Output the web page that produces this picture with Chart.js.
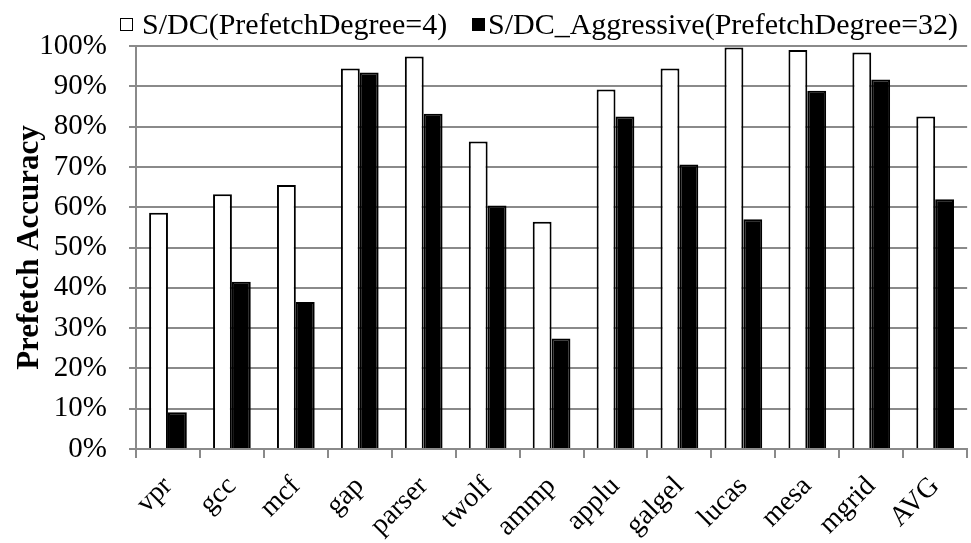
<!DOCTYPE html>
<html>
<head>
<meta charset="utf-8">
<script src="https://cdn.jsdelivr.net/npm/chart.js@4.4.1/dist/chart.umd.min.js"></script>
<style>
  html, body { margin: 0; padding: 0; background: #fff; }
  #wrap { position: relative; width: 971px; height: 543px; }
  #chart { position: absolute; left: 0; top: 0; }
  .legend { position: absolute; top: 9px; left: 0; height: 30px;
            font-family: "Liberation Serif", "Times New Roman", serif; font-size: 30px;
            line-height: 30px; color: #000; white-space: nowrap; }
  .legend .box { position: absolute; top: 9px; width: 11px; height: 11px; border: 1.5px solid #000; }
  .legend .txt { position: absolute; top: 0; }
</style>
</head>
<body>
<div id="wrap">
  <canvas id="chart" width="971" height="543"></canvas>
  <div class="legend" id="legend"></div>
</div>
<script>
// Benchmarks on the category axis
const benchmarks = ['vpr', 'gcc', 'mcf', 'gap', 'parser', 'twolf', 'ammp', 'applu', 'galgel', 'lucas', 'mesa', 'mgrid', 'AVG'];

// Prefetch accuracy (%) per benchmark
const degree4 =    [58.6, 63.2, 65.5, 94.4, 97.4, 76.3, 56.4, 89.2, 94.4, 99.6, 99.0, 98.4, 82.5];
const aggressive = [ 9.1, 41.5, 36.5, 93.4, 83.2, 60.4, 27.4, 82.5, 70.6, 57.0, 88.9, 91.7, 62.0];

// Series names
const seriesNames = ['S/DC(PrefetchDegree=4)', 'S/DC_Aggressive(PrefetchDegree=32)'];

// Y axis range and tick step (%)
const yMin = 0, yMax = 100, yStep = 10;

const serif = '"Liberation Serif", "Times New Roman", serif';
const gridGray = '#8a8a8a';

// Legend row above the plot
const legendSpec = [
  { name: seriesNames[0], fill: '#fff', boxLeft: 120, textLeft: 142 },
  { name: seriesNames[1], fill: '#000', boxLeft: 472, textLeft: 488 }
];
const legendEl = document.getElementById('legend');
legendSpec.forEach(s => {
  const box = document.createElement('div');
  box.className = 'box';
  box.style.left = s.boxLeft + 'px';
  box.style.background = s.fill;
  const txt = document.createElement('div');
  txt.className = 'txt';
  txt.style.left = s.textLeft + 'px';
  txt.textContent = s.name;
  legendEl.appendChild(box);
  legendEl.appendChild(txt);
});

new Chart(document.getElementById('chart'), {
  type: 'bar',
  data: {
    labels: benchmarks,
    datasets: [
      {
        label: seriesNames[0],
        data: degree4,
        backgroundColor: '#ffffff',
        borderColor: '#000000',
        borderWidth: 2
      },
      {
        label: seriesNames[1],
        data: aggressive,
        backgroundColor: '#000000',
        borderColor: '#000000',
        borderWidth: 2
      }
    ]
  },
  options: {
    responsive: false,
    devicePixelRatio: 1,
    animation: false,
    datasets: { bar: { categoryPercentage: 0.59, barPercentage: 1.0 } },
    layout: { padding: { top: 46, left: 0, right: 2, bottom: 0 } },
    plugins: {
      legend: { display: false },
      tooltip: { enabled: false }
    },
    scales: {
      x: {
        grid: {
          display: true,
          drawOnChartArea: false,
          drawTicks: true,
          tickLength: 9,
          offset: true,
          color: gridGray,
          lineWidth: 2
        },
        border: { display: true, color: gridGray, width: 2 },
        ticks: {
          autoSkip: false,
          minRotation: 45,
          maxRotation: 45,
          padding: 12,
          color: '#000',
          font: { family: serif, size: 28 }
        },
        afterFit: scale => { scale.height = 94; }
      },
      y: {
        min: yMin,
        max: yMax,
        grid: {
          color: gridGray,
          lineWidth: 2,
          drawTicks: true,
          tickLength: 7
        },
        border: { display: true, color: gridGray, width: 2 },
        ticks: {
          stepSize: yStep,
          padding: 22,
          color: '#000',
          font: { family: serif, size: 29 },
          callback: v => v + '%'
        },
        title: {
          display: true,
          text: 'Prefetch Accuracy',
          color: '#000',
          font: { family: serif, size: 31, weight: 'bold' },
          padding: { top: 11, bottom: 0 }
        },
        afterFit: scale => { scale.width = 136; }
      }
    }
  }
});
</script>
</body>
</html>
